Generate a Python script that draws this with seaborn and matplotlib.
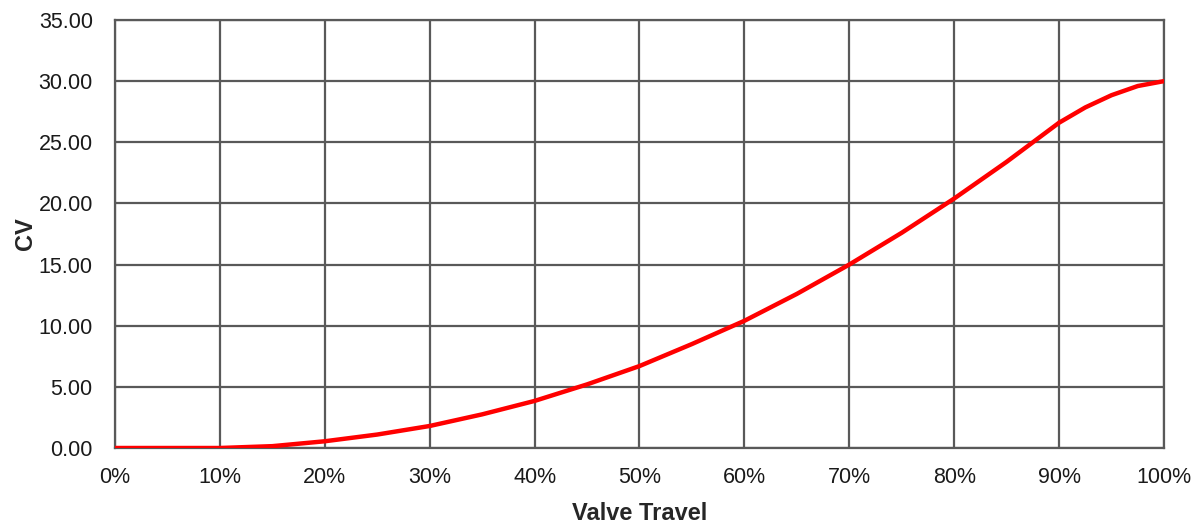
import matplotlib
matplotlib.use("Agg")
import matplotlib.pyplot as plt
import seaborn as sns
from matplotlib.ticker import PercentFormatter, FormatStrFormatter

# valve travel (fraction) and flow coefficient
travel = [0.00, 0.05, 0.10, 0.15, 0.20, 0.25, 0.30, 0.35, 0.40, 0.45, 0.50,
          0.55, 0.60, 0.65, 0.70, 0.75, 0.80, 0.85, 0.90, 0.925, 0.95, 0.975, 1.00]
cv = [0.00, 0.00, 0.00, 0.15, 0.55, 1.10, 1.80, 2.75, 3.85, 5.20, 6.70,
      8.50, 10.40, 12.60, 15.00, 17.60, 20.40, 23.40, 26.60, 27.85, 28.85, 29.60, 30.00]

sns.set_style("white")
plt.rcParams['font.family'] = ['Liberation Sans Narrow', 'Liberation Sans', 'DejaVu Sans']

fig = plt.figure(figsize=(11.99, 5.26), dpi=100)
ax = fig.add_axes([0.0959, 0.1483, 0.8749, 0.8137])

sns.lineplot(x=travel, y=cv, ax=ax, color="#ff0000", linewidth=3.2, zorder=3)

ax.set_xlim(0, 1)
ax.set_ylim(0, 35)
ax.set_xticks([i / 10 for i in range(11)])
ax.set_yticks(range(0, 36, 5))
ax.xaxis.set_major_formatter(PercentFormatter(1.0, decimals=0))
ax.yaxis.set_major_formatter(FormatStrFormatter("%.2f"))
ax.grid(True, color="#595959", linewidth=1.6)
for s in ax.spines.values():
    s.set_color("#595959")
    s.set_linewidth(1.6)
ax.tick_params(length=0, labelsize=15.5, colors="#1a1a1a")
ax.tick_params(axis="y", pad=16)
ax.tick_params(axis="x", pad=14)
ax.set_xlabel("Valve Travel", fontsize=17, fontweight="bold")
ax.set_ylabel("CV", fontsize=17, fontweight="bold")
ax.xaxis.set_label_coords(0.5, -0.126)
ax.yaxis.set_label_coords(-0.074, 0.5)

fig.savefig("out.png", dpi=100)
